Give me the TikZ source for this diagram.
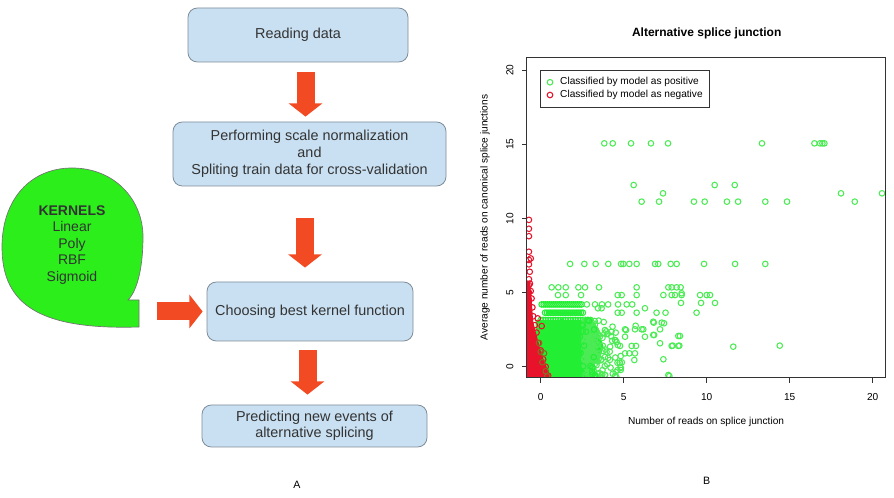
\documentclass[tikz,border=0pt]{standalone}
\usepackage{fontspec}
\setmainfont{Liberation Sans}
\usetikzlibrary{arrows.meta,calc}
\definecolor{boxfill}{HTML}{C9E0F2}
\definecolor{boxline}{HTML}{7F8C99}
\definecolor{arrowred}{HTML}{F24A22}
\definecolor{kgreen}{HTML}{2BEE1A}
\definecolor{txt}{HTML}{333333}
\definecolor{ptgreen}{HTML}{4CEB55}
\definecolor{blobgreen}{HTML}{22EE33}
\definecolor{ptred}{HTML}{E8132B}
\definecolor{olive}{HTML}{8A6A20}
\begin{document}
\begin{tikzpicture}[x=0.75pt,y=-0.75pt,
  flowbox/.style={draw=boxline, fill=boxfill, rounded corners=7pt, line width=0.6pt, text=txt,
    font=\fontsize{10.8}{12.8}\selectfont, align=center, inner sep=0pt},
  fatarrow/.style={draw=arrowred, line width=13.5pt, -{Triangle[width=25pt,length=10pt]}},
  gpt/.style={draw=ptgreen, line width=0.8pt},
  gdense/.style={draw=blobgreen, line width=0.8pt},
  rpt/.style={draw=ptred, line width=0.8pt},
  opt/.style={draw=olive, line width=0.8pt},
  plotfont/.style={font=\fontsize{7.6}{9}\selectfont, text=black},
  frame/.style={draw=black!80, line width=0.7pt}
]
\useasboundingbox (0,0) rectangle (894,498);

% ---------------- flowchart ----------------
\node[flowbox, minimum width=165pt, minimum height=40.5pt] (b1) at (298,35) {Reading data};
\node[flowbox, minimum width=204.75pt, minimum height=48pt] (b2) at (309.5,154)
  {Performing scale normalization\\and\\Spliting train data for cross-validation};
\node[flowbox, minimum width=154.5pt, minimum height=44.25pt] (b3) at (310,311.5) {Choosing best kernel function};
\node[flowbox, minimum width=168.75pt, minimum height=31.5pt, font=\fontsize{10.8}{12}\selectfont] (b4) at (314.5,426)
  {Predicting new events of\\alternative splicing};

\coordinate (c1) at (305.5,0);
\coordinate (c2) at (305,0);
\coordinate (c3) at (307.5,0);
\draw[fatarrow, shorten <=7.3pt, shorten >=3.75pt] (b1.south -| c1) -- (b2.north -| c1);
\draw[fatarrow, shorten <=24pt, shorten >=10.5pt] (b2.south -| c2) -- (b3.north -| c2);
\draw[fatarrow, shorten <=6.75pt, shorten >=7.5pt] (b3.south -| c3) -- (b4.north -| c3);

% kernels callout
\filldraw[fill=kgreen, draw=black!55, line width=0.5pt]
  (139,327) .. controls (40,330) and (2,305) .. (2,247)
  .. controls (2,200) and (30,168) .. (72,168)
  .. controls (115,168) and (143,200) .. (143,237)
  .. controls (143,265) and (138,290) .. (128,300)
  -- (139,300) -- cycle;
\node[align=center, text=txt, font=\fontsize{10.5}{12.4}\selectfont] (kern) at (72,245)
  {\textbf{KERNELS}\\Linear\\Poly\\RBF\\Sigmoid};
\coordinate (ktab) at (139,311.5);
\draw[fatarrow, shorten <=13.5pt, shorten >=3pt] (ktab) -- (b3.west);

\node[plotfont, font=\fontsize{8}{9}\selectfont] (labA) at (297,485) {A};

% ---------------- scatter plot ----------------
\begin{scope}[shift={(540.7,366.7)}, x=12.45pt, y=11.1225pt]
 \begin{scope}
  \clip (-0.83,-0.76) rectangle (20.74,20.82);
  % dense green core
  \fill[blobgreen] (-0.3,3.15) -- (3.0,3.15) -- (3.3,2.7) -- (3.6,2.0) -- (3.8,1.3)
     -- (3.5,0.5) -- (3.0,-0.2) -- (2.8,-0.9) -- (-0.3,-0.9) -- cycle;
  \foreach \x in {0.0,0.15,...,3.0} \draw[gdense] (\x,3.15) circle[radius=2.1pt];
  % dense rows
  \foreach \x in {0.06,0.18,...,2.47} \draw[gdense] (\x,4.2) circle[radius=2.1pt];
  \foreach \x in {0.26,0.38,...,2.56} \draw[gdense] (\x,3.64) circle[radius=2.1pt];
  % fringe
  \pgfmathsetseed{12}
  \foreach \i in {1,...,200}{
    \pgfmathsetmacro\ry{-0.75+3.9*rnd}
    \pgfmathsetmacro\rx{2.6+(2.6-0.25*\ry)*rnd*rnd}
    \draw[gpt] (\rx,\ry) circle[radius=2.1pt];
  }
  \foreach \i in {1,...,60}{
    \pgfmathsetmacro\ry{-0.75+3.9*rnd}
    \pgfmathsetmacro\rx{0.4+2.9*rnd}
    \draw[gdense] (\rx,\ry) circle[radius=2.1pt];
  }
  % sparse green points
  \foreach \x in {3.83,4.34,5.44,6.64,7.67,13.33,16.49,16.83,16.97,17.09} \draw[gpt] (\x,15.06) circle[radius=2.1pt];
  \foreach \x in {5.60,10.48,11.69} \draw[gpt] (\x,12.25) circle[radius=2.1pt];
  \foreach \x in {7.37,18.09,20.56} \draw[gpt] (\x,11.69) circle[radius=2.1pt];
  \foreach \x in {6.08,7.13,9.23,9.88,11.22,11.89,13.53,14.84,18.92} \draw[gpt] (\x,11.13) circle[radius=2.1pt];
  \foreach \x in {1.77,2.63,3.31,4.07,4.84,4.98,5.34,5.78,6.89,7.08,7.83,8.19,9.84,11.71,13.53} \draw[gpt] (\x,6.93) circle[radius=2.1pt];
  \foreach \x in {0.66,1.06,1.51,2.27,2.67,3.51,5.78,7.69,7.89,8.19,8.43} \draw[gpt] (\x,5.35) circle[radius=2.1pt];
  \foreach \x in {1.04,1.51,2.43,4.64,4.88,5.78,7.39,7.89,8.09,8.49,9.60,10.0,10.20} \draw[gpt] (\x,4.83) circle[radius=2.1pt];
  \foreach \x in {8.45,9.66,10.5} \draw[gpt] (\x,4.3) circle[radius=2.1pt];
  \foreach \x in {2.78,3.27,3.69,4.06,4.66,5.18,5.51} \draw[gpt] (\x,4.2) circle[radius=2.1pt];
  \foreach \x in {3.45,3.67,6.28} \draw[gpt] (\x,3.94) circle[radius=2.1pt];
  \foreach \x in {4.64,4.88,5.78,6.98,7.52,9.39} \draw[gpt] (\x,3.64) circle[radius=2.1pt];
  \foreach \x/\y in {5.08/2.52,5.68/2.52,6.08/2.52,6.78/3.03,7.29/2.97,7.19/2.52,6.78/2.14,8.39/2.07,
     6.28/2.02,5.08/2.02,7.19/1.58,7.89/1.40,8.29/1.40,11.60/1.35,7.39/0.50,5.74/1.40,5.48/1.40,
     4.78/1.40,4.48/1.80,5.08/0.90,5.68/0.90,4.48/-0.63,7.69/-0.56,3.87/2.47,14.40/1.42,7.75/-0.63,
     5.64/0.45,8.29/2.07,7.95/1.42,8.35/1.42,6.83/2.14,5.14/2.47,6.18/2.52,5.72/2.76,6.81/2.97,
     7.43/2.93,4.52/2.30,5.34/0.90,4.82/0.72,8.49/4.95}
     \draw[gpt] (\x,\y) circle[radius=2.1pt];
  % red region
  \fill[ptred] (-0.9,-0.9) -- (0.56,-0.9) -- (0.5,-0.5) -- (0.25,0.3) -- (0.06,0.8) -- (-0.24,2.1)
     -- (-0.46,3.1) -- (-0.54,4.5) -- (-0.65,5.8) -- (-0.9,5.8) -- cycle;
  \foreach \x/\y in {0.45/-0.6,0.3/0.0,0.15/0.5,0.0/1.1,-0.15/1.6,-0.25/2.3,-0.35/2.8,-0.45/3.4,-0.5/4.0,
     -0.55/4.6,-0.6/5.1,-0.65/5.6}
     \draw[rpt] (\x,\y) circle[radius=2.1pt];
  \foreach \y in {9.9,9.3,8.8,7.75,7.2,6.9,5.9,5.5,5.0,4.5,4.2}
     \draw[rpt] (-0.71,\y) circle[radius=2.1pt];
  \foreach \x/\y in {-0.18/3.26,0.06/2.74,-0.6/7.3,-0.66/6.4}
     \draw[rpt] (\x,\y) circle[radius=2.1pt];
  \foreach \x/\y in {0.1/0.3,0.3/-0.3,0.0/1.0,-0.1/1.6,0.4/-0.65,0.2/0.9}
     \draw[opt] (\x,\y) circle[radius=2.1pt];
 \end{scope}
 \draw[frame] (-0.83,-0.76) rectangle (20.74,20.82);
 \foreach \v in {0,5,10,15,20}{
   \draw[frame] (\v,-0.76) -- ++(0pt,-3.75pt);
   \node[plotfont] at (\v,-2.02) {\v};
   \draw[frame] (-0.83,\v) -- ++(-3.75pt,0pt);
   \node[plotfont, rotate=90] at (-1.85,\v) {\v};
 }
 % legend
 \draw[frame, fill=white] (0.0,19.99) rectangle (10.14,17.5);
 \draw[gpt] (0.56,19.18) circle[radius=2.1pt];
 \draw[rpt] (0.56,18.32) circle[radius=2.1pt];
 \node[plotfont, anchor=west, inner sep=0pt] (leg1) at (1.16,19.18) {Classified by model as positive};
 \node[plotfont, anchor=west, inner sep=0pt] (leg2) at (1.16,18.32) {Classified by model as negative};
 % labels
 \node[font=\bfseries\fontsize{9}{10}\selectfont] (title) at (10,22.5) {Alternative splice junction};
 \node[plotfont] (xlab) at (9.96,-3.71) {Number of reads on splice junction};
 \node[plotfont, rotate=90] (ylab) at (-3.35,10.06) {Average number of reads on canonical splice junctions};
 \node[plotfont, font=\fontsize{8}{9}\selectfont] (labB) at (10,-7.7) {B};
\end{scope}
\end{tikzpicture}
\end{document}
